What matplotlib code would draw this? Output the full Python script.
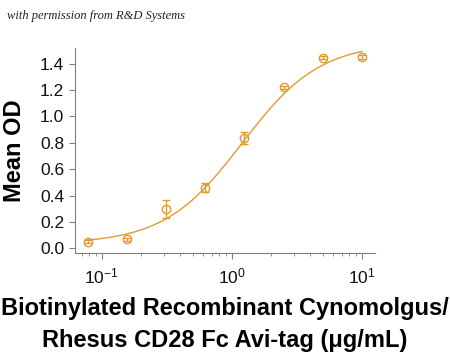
import numpy as np
import matplotlib
matplotlib.use("Agg")
import matplotlib.pyplot as plt
from matplotlib.ticker import LogLocator, NullFormatter, FixedLocator

# Data
conc = [0.078, 0.156, 0.3125, 0.625, 1.25, 2.5, 5.0, 10.0]
mean_od = [0.050, 0.068, 0.300, 0.460, 0.840, 1.222, 1.447, 1.452]
sem = [0.012, 0.012, 0.066, 0.035, 0.045, 0.010, 0.010, 0.015]
# 4-parameter logistic fit parameters (bottom, top, EC50, hill)
fit_bottom = 0.035
fit_top = 1.56
fit_ec50 = 1.2
fit_hill = 1.45
yticks = [0.0, 0.2, 0.4, 0.6, 0.8, 1.0, 1.2, 1.4]
xticks = [0.1, 1.0, 10.0]
xticklabels = ["$\\mathregular{10^{-1}}$", "$\\mathregular{10^{0}}$", "$\\mathregular{10^{1}}$"]

color = "#E49A2C"
plt.rcParams["font.family"] = ["Liberation Sans", "DejaVu Sans"]
plt.rcParams["mathtext.fontset"] = "custom"
plt.rcParams["mathtext.rm"] = "Liberation Sans"

fig = plt.figure(figsize=(4.5, 3.52), dpi=100)
ax = fig.add_axes([0.167, 0.281, 0.666, 0.583])

xs = np.logspace(np.log10(0.075), np.log10(10.0), 300)
ys = fit_bottom + (fit_top - fit_bottom) / (1 + (fit_ec50 / xs) ** fit_hill)
ax.plot(xs, ys, color=color, lw=1.0)
ax.errorbar(conc, mean_od, yerr=sem, fmt="o", mfc="none", mec=color,
            ecolor=color, ms=6, mew=1.0, elinewidth=1.0, capsize=3, capthick=1.0)

ax.set_xscale("log")
ax.set_xlim(0.0624, 12.6)
ax.set_ylim(-0.035, 1.52)
ax.set_yticks(yticks)
ax.set_yticklabels([f"{v:.1f}" for v in yticks])
ax.xaxis.set_major_locator(FixedLocator(xticks))
ax.set_xticklabels(xticklabels)
ax.xaxis.set_minor_locator(LogLocator(base=10, subs=np.arange(2, 10), numticks=20))
ax.xaxis.set_minor_formatter(NullFormatter())

for s in ["top", "right"]:
    ax.spines[s].set_visible(False)
for s in ["left", "bottom"]:
    ax.spines[s].set_color("#808080")
    ax.spines[s].set_linewidth(0.8)
ax.tick_params(axis="both", which="major", length=4, width=0.8, color="#808080",
               labelsize=12.5, labelcolor="#111111", pad=4)
ax.tick_params(axis="x", which="major", pad=6)
ax.tick_params(axis="x", which="minor", length=2.5, width=0.6, color="#808080")

ax.set_ylabel("Mean OD", fontsize=17, fontweight="bold")
ax.yaxis.set_label_coords(-0.165, 0.5)
fig.text(0.5, 1 - 315 / 352, "Biotinylated Recombinant Cynomolgus/",
         ha="center", va="baseline", fontsize=17, fontweight="bold")
fig.text(0.5, 1 - 347 / 352, "Rhesus CD28 Fc Avi-tag (\u03bcg/mL)",
         ha="center", va="baseline", fontsize=17, fontweight="bold")
fig.text(0.016, 1 - 19 / 352, "with permission from R&D Systems", fontsize=9,
         style="italic", family="Liberation Serif", color="#222222", va="baseline")

fig.savefig("out.png", dpi=100)
